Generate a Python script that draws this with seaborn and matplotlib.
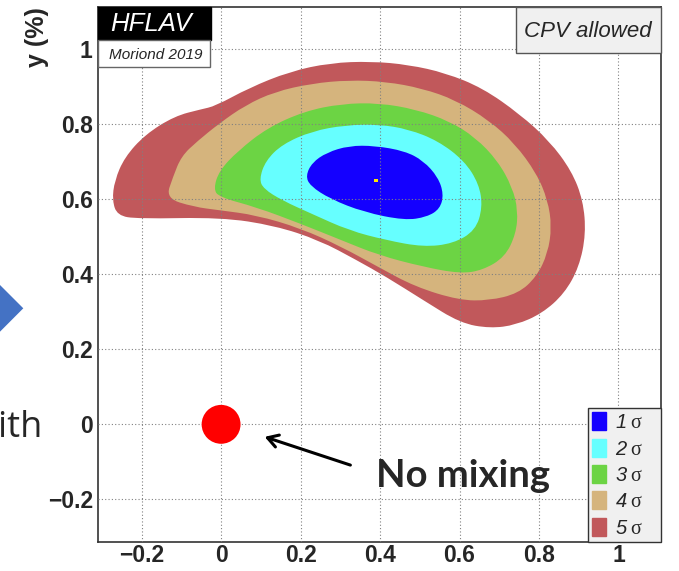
import matplotlib
matplotlib.use('Agg')
import matplotlib.pyplot as plt
import seaborn as sns
from matplotlib.patches import Patch, Rectangle, Polygon, PathPatch
from matplotlib.path import Path
from matplotlib.ticker import MultipleLocator

# confidence regions in (x, y) [%]
sigma5_x = [-0.274, -0.268, -0.243, -0.191, -0.117, -0.051, -0.014, 0.070, 0.173, 0.275, 0.378, 0.472,
            0.565, 0.658, 0.752, 0.826, 0.882, 0.911, 0.918, 0.901, 0.864, 0.808, 0.742, 0.677,
            0.602, 0.509, 0.416, 0.341, 0.247, 0.135, 0.000, -0.210, -0.261]
sigma5_y = [0.597, 0.650, 0.712, 0.773, 0.822, 0.840, 0.849, 0.897, 0.941, 0.964, 0.968, 0.959,
            0.937, 0.897, 0.827, 0.756, 0.676, 0.597, 0.508, 0.420, 0.349, 0.296, 0.265, 0.256,
            0.270, 0.331, 0.393, 0.438, 0.491, 0.530, 0.552, 0.548, 0.557]

sigma4_x = [-0.139, -0.121, -0.100, -0.060, -0.004, 0.061, 0.135, 0.228, 0.321, 0.414, 0.506, 0.590,
            0.674, 0.739, 0.794, 0.822, 0.832, 0.822, 0.794, 0.748, 0.674, 0.599, 0.488, 0.395,
            0.302, 0.200, 0.088, -0.004, -0.069]
sigma4_y = [0.603, 0.660, 0.715, 0.755, 0.803, 0.851, 0.887, 0.909, 0.918, 0.914, 0.896, 0.865,
            0.811, 0.749, 0.669, 0.598, 0.527, 0.456, 0.394, 0.349, 0.330, 0.331, 0.367, 0.420,
            0.474, 0.523, 0.558, 0.571, 0.580]

sigma3_x = [-0.019, -0.005, 0.089, 0.200, 0.303, 0.397, 0.509, 0.602, 0.658, 0.714, 0.742, 0.747,
            0.733, 0.696, 0.640, 0.574, 0.490, 0.397, 0.303, 0.210, 0.117, 0.042, -0.005]
sigma3_y = [0.628, 0.606, 0.579, 0.535, 0.491, 0.451, 0.420, 0.402, 0.411, 0.446, 0.508, 0.570,
            0.632, 0.703, 0.765, 0.809, 0.840, 0.857, 0.855, 0.835, 0.791, 0.729, 0.676]

sigma2_x = [0.096, 0.107, 0.154, 0.229, 0.322, 0.416, 0.509, 0.584, 0.640, 0.658, 0.649, 0.612,
            0.546, 0.472, 0.397, 0.313, 0.229, 0.154, 0.112]
sigma2_y = [0.654, 0.628, 0.597, 0.561, 0.517, 0.491, 0.473, 0.482, 0.517, 0.579, 0.641, 0.703,
            0.756, 0.787, 0.800, 0.798, 0.782, 0.747, 0.703]

sigma1_x = [0.213, 0.224, 0.275, 0.359, 0.462, 0.518, 0.551, 0.560, 0.546, 0.509, 0.462, 0.387,
            0.322, 0.266, 0.229]
sigma1_y = [0.663, 0.636, 0.601, 0.566, 0.544, 0.553, 0.575, 0.614, 0.659, 0.703, 0.729, 0.743,
            0.743, 0.725, 0.698]

levels = ['1', '2', '3', '4', '5']
level_colors = ['#1400FF', '#66FFFF', '#6CD444', '#D5B47D', '#C1585B']

best_fit_x = [0.39]
best_fit_y = [0.651]
no_mixing_x = [0.0]
no_mixing_y = [0.0]

x_ticks = [-0.2, 0, 0.2, 0.4, 0.6, 0.8, 1]
y_ticks = [-0.2, 0, 0.2, 0.4, 0.6, 0.8, 1]

sns.set_style('white')
plt.rcParams['font.family'] = ['Liberation Sans', 'DejaVu Sans']
plt.rcParams['mathtext.fontset'] = 'custom'
plt.rcParams['mathtext.sf'] = 'Liberation Sans:italic'
plt.rcParams['mathtext.it'] = 'Liberation Sans:italic'
plt.rcParams['mathtext.rm'] = 'Liberation Serif'

W, H = 679, 571
fig = plt.figure(figsize=(W / 100, H / 100), dpi=100)


def fx(px):
    return px / W


def fy(py):
    return 1 - py / H


def smooth_outline(xs, ys):
    # closed outline through the traced points, drawn with quadratic curve segments
    n = len(xs)
    mids = [((xs[i] + xs[(i + 1) % n]) / 2, (ys[i] + ys[(i + 1) % n]) / 2) for i in range(n)]
    verts = [mids[-1]]
    codes = [Path.MOVETO]
    for i in range(n):
        verts += [(xs[i], ys[i]), mids[i]]
        codes += [Path.CURVE3, Path.CURVE3]
    return Path(verts, codes)


ax = fig.add_axes([fx(98.3), fy(541.7), fx(661) - fx(98.3), fy(7) - fy(541.7)])

# regions, outermost first
regions = [(sigma5_x, sigma5_y), (sigma4_x, sigma4_y), (sigma3_x, sigma3_y),
           (sigma2_x, sigma2_y), (sigma1_x, sigma1_y)]
for (xs, ys), col in zip(regions, level_colors[::-1]):
    ax.add_patch(PathPatch(smooth_outline(xs, ys), facecolor=col, lw=0, zorder=1))

sns.scatterplot(x=best_fit_x, y=best_fit_y, marker='s', s=6, color='#FFE600',
                edgecolor='none', zorder=3, ax=ax)

ax.set_xlim(-0.309, 1.107)
ax.set_ylim(-0.313, 1.113)
ax.set_xticks(x_ticks)
ax.set_yticks(y_ticks)
ax.set_xticklabels([f'{v:g}'.replace('-', '\u2212') for v in x_ticks], fontweight='bold', fontsize=16.5)
ax.set_yticklabels([f'{v:g}'.replace('-', '\u2212') for v in y_ticks], fontweight='bold', fontsize=16.5)
ax.xaxis.set_minor_locator(MultipleLocator(0.05))
ax.yaxis.set_minor_locator(MultipleLocator(0.05))
ax.tick_params(which='both', direction='in', color='#333333', width=1, top=False, right=False)
ax.tick_params(which='major', length=12)
ax.tick_params(which='minor', length=5.8)
ax.tick_params(axis='x', which='major', pad=2)
ax.tick_params(axis='y', which='major', pad=4)
ax.grid(True, which='major', color='#808080', linestyle=(0, (1, 2)), linewidth=0.8)
ax.set_axisbelow(False)
for sp in ax.spines.values():
    sp.set_color('#333333')
    sp.set_linewidth(1.2)

fig.text(fx(37), fy(37), 'y (%)', rotation=90, fontweight='bold', fontsize=18,
         ha='center', va='center')

# labels in boxes
ax.add_patch(Rectangle((0, 0.9383), 0.2003, 0.0617, transform=ax.transAxes, facecolor='black',
                       edgecolor='black', zorder=6, clip_on=False))
ax.text(0.0937, 0.969, 'HFLAV', transform=ax.transAxes, color='white', fontstyle='italic',
        fontsize=18.5, ha='center', va='center', zorder=7)
ax.add_patch(Rectangle((0, 0.8878), 0.1985, 0.0505, transform=ax.transAxes, facecolor='white',
                       edgecolor='#666666', lw=1, zorder=6, clip_on=False))
ax.text(0.1017, 0.910, 'Moriond 2019', transform=ax.transAxes, fontstyle='italic',
        fontsize=11, ha='center', va='center', zorder=7)
ax.add_patch(Rectangle((0.7423, 0.914), 0.2577, 0.086, transform=ax.transAxes, facecolor='#F0F0F0',
                       edgecolor='#555555', lw=1, zorder=6, clip_on=False))
ax.text(0.8694, 0.955, 'CPV allowed', transform=ax.transAxes, fontstyle='italic',
        fontsize=16, ha='center', va='center', zorder=7)

handles = [Patch(facecolor=c, edgecolor=c, label=rf'$\mathsf{{{n}}}\;\mathrm{{\sigma}}$')
           for n, c in zip(levels, level_colors)]
leg = ax.legend(handles=handles, loc='lower left', bbox_to_anchor=(0.8699, 0, 0.1301, 0.25),
                mode='expand', borderaxespad=0,
                frameon=True, fancybox=False, facecolor='#F0F0F0', edgecolor='#333333',
                framealpha=1, fontsize=14.5, handlelength=0.7, handleheight=1.0,
                handletextpad=0.45, labelspacing=0.32, borderpad=0.2)
leg.get_frame().set_linewidth(1.0)
leg.set_zorder(8)

# slide overlay: no-mixing point, arrow and caption
sns.scatterplot(x=no_mixing_x, y=no_mixing_y, s=28 ** 2, color='#FF0000', edgecolor='none',
                zorder=10, ax=ax, clip_on=False)
ax.annotate('', xy=(0.103, -0.031), xytext=(0.332, -0.111),
            arrowprops=dict(arrowstyle='->,head_length=0.75,head_width=0.45', lw=2.2, color='black'),
            zorder=10)
fig.text(fx(462.5), fy(486.7), 'No mixing', ha='center', va='baseline', fontsize=27.5,
         fontweight='bold', family='Lato', zorder=10)

fig.patches.append(Polygon([[fx(-10), fy(275)], [fx(23.3), fy(308.3)], [fx(-10), fy(341.7)]],
                           closed=True, transform=fig.transFigure, facecolor='#4472C4',
                           edgecolor='none'))
# word cut by the left edge, as in the slide
fig.text(fx(43), fy(436.7), 'with', ha='right', va='baseline', fontsize=26, family='Open Sans')

fig.savefig('out.png', dpi=100)
